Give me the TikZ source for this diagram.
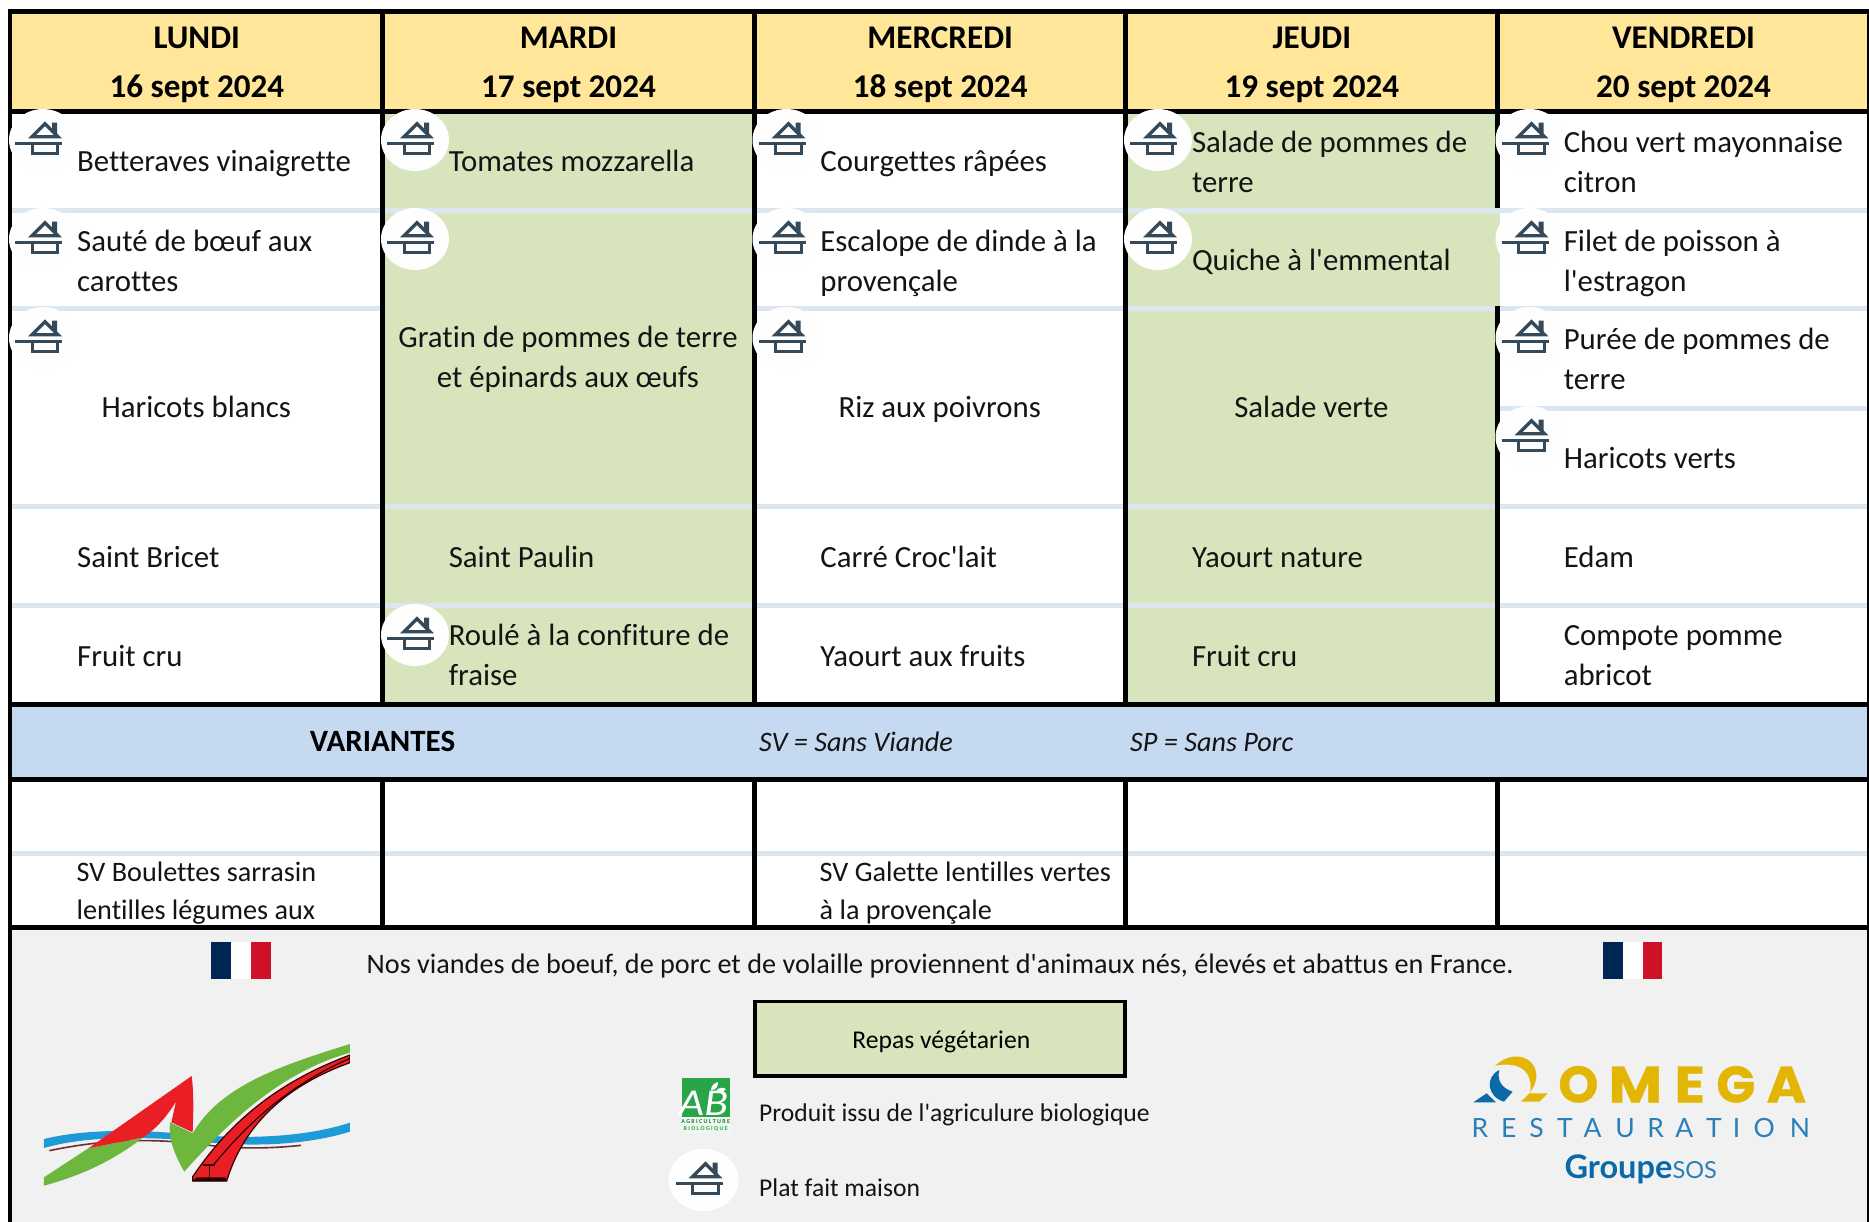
\documentclass[tikz,border=0pt]{standalone}
\usepackage{fontspec}
\setmainfont{Carlito}[Ligatures={TeXOff,CommonOff}]
\newfontfamily\popf{Poppins}[BoldFeatures={FakeBold=0.7}]
\newfontfamily\latof{Lato}
\definecolor{hdr}{HTML}{FFE699}
\definecolor{veg}{HTML}{D8E4BC}
\definecolor{sep}{HTML}{DCE6F1}
\definecolor{varb}{HTML}{C5D9F1}
\definecolor{foot}{HTML}{F1F1F1}
\definecolor{ico}{HTML}{34495A}
\definecolor{gold}{HTML}{E3B505}
\definecolor{oblue}{HTML}{0A69A8}
\definecolor{lblue}{HTML}{2B7FB8}
\definecolor{ngreen}{HTML}{6DB73F}
\definecolor{nred}{HTML}{EA1F26}
\definecolor{nblue}{HTML}{1E9BD7}
\definecolor{abg}{HTML}{28A548}
\definecolor{frb}{HTML}{002654}
\definecolor{frr}{HTML}{CE1126}
\definecolor{nbrown}{HTML}{6E2C36}
\tikzset{
  x=1pt,y=-1pt,
  cell/.style={anchor=base west,inner sep=0pt,font=\fontsize{30.8}{40}\selectfont,text=black!92},
  cellc/.style={cell,anchor=base},
  head/.style={anchor=base,inner sep=0pt,font=\fontsize{33.1}{40}\bfseries\selectfont,text=black},
  varc/.style={cell,font=\fontsize{28.2}{38}\selectfont},
  vari/.style={cell,font=\fontsize{28.2}{38}\itshape\selectfont},
  foottxt/.style={cell,font=\fontsize{28.2}{36}\selectfont},
  legtxt/.style={cell,font=\fontsize{25.6}{32}\selectfont},
  bar/.style={line width=4.7pt,draw=black},
  seprow/.style={line width=4.7pt,draw=sep},
  omegaL/.style={anchor=base,inner sep=0pt,text=gold,font=\fontsize{51}{51}\popf\bfseries\selectfont},
  restL/.style={anchor=base,inner sep=0pt,text=lblue,font=\fontsize{26.5}{26.5}\latof\selectfont},
  maison/.pic={
    \fill[white!99.5!black] (34,31) ellipse [x radius=34,y radius=31];
    \draw[ico,line width=3.3pt,line join=miter] (22.9,27.8) -- (36,14.7) -- (49.1,27.8) -- cycle;
    \fill[ico] (43,13.7) -- (48,13.7) -- (48,26) -- (43,21) -- cycle;
    \draw[ico,line width=3.3pt] (6,34.3) -- (53,34.3);
    \draw[ico,line width=3.3pt] (23.2,34.3) rectangle (48.8,44.5);
  }
}
\begin{document}
\begin{tikzpicture}
\useasboundingbox (0,0) rectangle (1869,1222);
\fill[white] (0,0) rectangle (1869,1222);
% backgrounds
\fill[hdr] (10,11) rectangle (1869,112);
\fill[veg] (382,112) rectangle (754,704);
\fill[veg] (1125,112) rectangle (1497,704);
\fill[veg] (1125,213) rectangle (1500,306);
\fill[varb] (10,704) rectangle (1869,780);
\fill[foot] (10,927) rectangle (1869,1222);
% row separators
\draw[seprow] (12,210.5) -- (1867,210.5);
\draw[seprow] (12,308.5) -- (382,308.5);
\draw[seprow] (754,308.5) -- (1867,308.5);
\draw[seprow] (1497,408.5) -- (1867,408.5);
\draw[seprow] (12,506.5) -- (1867,506.5);
\draw[seprow] (12,605.5) -- (1867,605.5);
\draw[seprow] (12,853.7) -- (1867,853.7);
% vertical rules
\draw[bar] (10,9) -- (10,1222);
\draw[bar] (1869.5,9) -- (1869.5,1222);
\draw[bar] (382.7,9) -- (382.7,707);
\draw[bar] (754.4,9) -- (754.4,707);
\draw[bar] (1125.6,9) -- (1125.6,707);
\draw[bar] (1497.5,9) -- (1497.5,208);
\draw[bar] (1497.5,306) -- (1497.5,707);
\draw[bar] (382.7,780) -- (382.7,927);
\draw[bar] (754.4,780) -- (754.4,927);
\draw[bar] (1125.6,780) -- (1125.6,927);
\draw[bar] (1497.5,780) -- (1497.5,927);
% horizontal rules
\draw[bar] (8,11.5) -- (1869,11.5);
\draw[bar] (8,111.5) -- (1869,111.5);
\draw[bar] (8,704.3) -- (1869,704.3);
\draw[bar] (8,779.6) -- (1869,779.6);
\draw[bar] (8,927.3) -- (1869,927.3);
% icons
\pic at (9,109) {maison}; \pic at (9,208) {maison}; \pic at (9,307) {maison};
\pic at (381,109) {maison}; \pic at (381,208) {maison}; \pic at (381,604) {maison};
\pic at (752.5,109) {maison}; \pic at (752.5,208) {maison}; \pic at (752.5,307) {maison};
\pic at (1124,109) {maison}; \pic at (1124,208) {maison};
\pic at (1495.5,109) {maison}; \pic at (1495.5,208) {maison}; \pic at (1495.5,307) {maison}; \pic at (1495.5,406) {maison};
% headers
\node[head] (h1) at (196.8,48.7) {LUNDI};
\node[head] (d1) at (196.8,97.7) {16 sept 2024};
\node[head] (h2) at (568.5,48.7) {MARDI};
\node[head] (d2) at (568.5,97.7) {17 sept 2024};
\node[head] (h3) at (940.2,48.7) {MERCREDI};
\node[head] (d3) at (940.2,97.7) {18 sept 2024};
\node[head] (h4) at (1311.9,48.7) {JEUDI};
\node[head] (d4) at (1311.9,97.7) {19 sept 2024};
\node[head] (h5) at (1683.5,48.7) {VENDREDI};
\node[head] (d5) at (1683.5,97.7) {20 sept 2024};
% column 1
\node[cell] (a1) at (77,171.9) {Betteraves vinaigrette};
\node[cell] (a2) at (77,251.2) {Sauté de bœuf aux};
\node[cell] (a2b) at (77,291.2) {carottes};
\node[cellc] (a3) at (196.3,417.9) {Haricots blancs};
\node[cell] (a4) at (77,567.9) {Saint Bricet};
\node[cell] (a5) at (77,666.9) {Fruit cru};
% column 2
\node[cell] (b1) at (448.6,171.9) {Tomates mozzarella};
\node[cellc] (b2) at (568,347.9) {Gratin de pommes de terre};
\node[cellc] (b2b) at (568,387.9) {et épinards aux œufs};
\node[cell] (b4) at (448.6,567.9) {Saint Paulin};
\node[cell] (b5) at (448.6,645.5) {Roulé à la confiture de};
\node[cell] (b5b) at (448.6,685.5) {fraise};
% column 3
\node[cell] (c1) at (820.2,171.9) {Courgettes râpées};
\node[cell] (c2) at (820.2,251.2) {Escalope de dinde à la};
\node[cell] (c2b) at (820.2,291.2) {provençale};
\node[cellc] (c3) at (939.7,417.9) {Riz aux poivrons};
\node[cell] (c4) at (820.2,567.9) {Carré Croc'lait};
\node[cell] (c5) at (820.2,666.9) {Yaourt aux fruits};
% column 4
\node[cell] (e1) at (1191.8,152.2) {Salade de pommes de};
\node[cell] (e1b) at (1191.8,192.2) {terre};
\node[cell] (e2) at (1191.8,270.5) {Quiche à l'emmental};
\node[cellc] (e3) at (1311.4,417.9) {Salade verte};
\node[cell] (e4) at (1191.8,567.9) {Yaourt nature};
\node[cell] (e5) at (1191.8,666.9) {Fruit cru};
% column 5
\node[cell] (f1) at (1563.6,152.2) {Chou vert mayonnaise};
\node[cell] (f1b) at (1563.6,192.2) {citron};
\node[cell] (f2) at (1563.6,251.2) {Filet de poisson à};
\node[cell] (f2b) at (1563.6,291.2) {l'estragon};
\node[cell] (f3) at (1563.6,349.5) {Purée de pommes de};
\node[cell] (f3b) at (1563.6,389.5) {terre};
\node[cell] (f3c) at (1563.6,468.9) {Haricots verts};
\node[cell] (f4) at (1563.6,567.9) {Edam};
\node[cell] (f5) at (1563.6,645.5) {Compote pomme};
\node[cell] (f5b) at (1563.6,685.5) {abricot};
% variants
\node[anchor=base,inner sep=0pt,font=\fontsize{31}{36}\bfseries\selectfont] (vt) at (382.5,751) {VARIANTES};
\node[vari] (v1) at (759,751) {SV = Sans Viande};
\node[vari] (v2) at (1130,751) {SP = Sans Porc};
\node[varc] (v3) at (76.5,881.7) {SV Boulettes sarrasin};
\node[varc] (v3b) at (76.5,919.3) {lentilles légumes aux};
\node[varc] (v4) at (819.5,881.7) {SV Galette lentilles vertes};
\node[varc] (v4b) at (819.5,919.3) {à la provençale};
% footer
\node[foottxt] (ft) at (366.5,973) {Nos viandes de boeuf, de porc et de volaille proviennent d'animaux nés, élevés et abattus en France.};
\fill[white] (231,942) rectangle (251,979);
\fill[white] (1623,942) rectangle (1643,979);
\fill[frb] (211,942) rectangle (231,979);
\fill[frr] (251,942) rectangle (271,979);
\fill[frb] (1603,942) rectangle (1623,979);
\fill[frr] (1643,942) rectangle (1662,979);
% legend
\node[draw=black,line width=3.6pt,fill=veg,minimum width=370pt,minimum height=74.5pt,inner sep=0pt] (rv) at (940,1038.8) {};
\node[anchor=base,inner sep=0pt,font=\fontsize{25.6}{32}\selectfont] (rvt) at (941.3,1048.3) {Repas végétarien};
\node[legtxt] (l1) at (759,1121) {Produit issu de l'agriculure biologique};
\node[legtxt] (l2) at (759,1196) {Plat fait maison};
\begin{scope}[shift={(669.5,1149)}]
\fill[white] (34,31) ellipse [x radius=35,y radius=31];
\end{scope}
\pic at (669.5,1149) {maison};
% AB logo
\fill[white!92!abg] (681,1078) rectangle (730.7,1132.7);
\fill[abg] (682,1078) rectangle (730,1117);
\node[anchor=center,inner sep=0pt,text=white,xscale=1.15,transform shape,font=\fontsize{38}{38}\itshape\selectfont] (ab) at (703.5,1103.8) {AB};
\fill[white] (711,1090) .. controls (711,1085) and (715,1083) .. (718,1082) .. controls (718,1087) and (716,1090) .. (711,1090);
\fill[white] (716,1091) .. controls (719,1087) and (723,1087) .. (726,1089) .. controls (723,1093) and (719,1093) .. (716,1091);
\node[anchor=center,inner sep=0pt,text=abg!70!black,font=\fontsize{6}{6}\bfseries\selectfont] (ab1) at (705.7,1121.5) {A G R I C U L T U R E};
\node[anchor=center,inner sep=0pt,text=abg,font=\fontsize{6}{6}\bfseries\selectfont] (ab2) at (705.7,1128.5) {B I O L O G I Q U E};
% left logo (coordinates of a 3x view)
\begin{scope}[shift={(0,920)},x=0.33333pt,y=-0.33333pt]
\clip (132,300) rectangle (1050,820);
\fill[nblue] (132,657) .. controls (250,628) and (400,628) .. (560,642) .. controls (750,660) and (920,650) .. (1050,608) -- (1050,635) .. controls (920,675) and (750,685) .. (560,660) .. controls (400,650) and (250,650) .. (132,684) -- cycle;
\draw[draw=nbrown,line width=1.6pt] (148,692) .. controls (300,660) and (450,652) .. (620,675) .. controls (720,688) and (820,685) .. (903,676);
\fill[ngreen] (132,772) -- (265,685) -- (430,652) .. controls (330,730) and (230,770) .. (132,797) -- cycle;
\fill[nred] (265,685) -- (575,468) .. controls (582,520) and (580,580) .. (578,637) -- (514,607) -- (528,545) .. controls (500,590) and (470,625) .. (430,652) -- cycle;
\fill[ngreen] (510,607) -- (578,640) .. controls (660,500) and (830,440) .. (1050,372) -- (1050,398) .. controls (850,455) and (700,590) .. (553,755) .. controls (520,700) and (505,650) .. (510,607) -- cycle;
\filldraw[fill=nred,draw=black!80!red,line width=1.2pt] (578,783) -- (578,770) .. controls (700,590) and (850,480) .. (1050,405) -- (1050,428) .. controls (850,500) and (730,620) .. (680,783) -- cycle;
\draw[black!80!red,line width=1.2pt] (640,735) .. controls (760,590) and (880,490) .. (1050,415);
\draw[black!80!red,line width=1.2pt] (610,735) -- (646,735) (628,735) -- (628,772);
\fill[black!85!red] (590,772) -- (676,772) -- (680,783) -- (578,783) -- cycle;
\end{scope}
% Omega logo (coordinates of a 3x view)
\begin{scope}[shift={(1430,920)},x=0.33333pt,y=-0.33333pt]
\fill[gold] (195,437) .. controls (225,410) and (265,400) .. (295,420) .. controls (330,445) and (330,500) .. (272,545) -- (328,545) -- (353,520) -- (300,520) .. controls (310,470) and (285,420) .. (195,437) -- cycle;
\fill[oblue] (208,450) .. controls (165,470) and (170,530) .. (222,545) -- (248,515) .. controls (215,505) and (200,480) .. (208,450) -- cycle;
\fill[oblue] (130,547) -- (170,520) -- (198,547) -- cycle;
\node[omegaL] (o1) at (445,547) {O};
\node[omegaL,xscale=1.15,transform shape] (o2) at (616,547) {M};
\node[omegaL,xscale=1.1,transform shape] (o3) at (779,547) {E};
\node[omegaL] (o4) at (917,547) {G};
\node[omegaL,xscale=1.05,transform shape] (o5) at (1069,547) {A};
\node[restL] (r1) at (150,652) {R};
\node[restL] (r2) at (236,652) {E};
\node[restL] (r3) at (320,652) {S};
\node[restL] (r4) at (405,652) {T};
\node[restL] (r5) at (488,652) {A};
\node[restL] (r6) at (585,652) {U};
\node[restL] (r7) at (677,652) {R};
\node[restL] (r8) at (763,652) {A};
\node[restL] (r9) at (852,652) {T};
\node[restL] (r10) at (920,652) {I};
\node[restL] (r11) at (1003,652) {O};
\node[restL] (r12) at (1110,652) {N};
\node[anchor=base west,inner sep=0pt,text=oblue,font=\fontsize{32.5}{30}\latof\bfseries\selectfont] (gr) at (403,775) {Groupe};
\node[anchor=base west,inner sep=0pt,text=lblue,font=\fontsize{23.5}{21}\latof\selectfont] (so) at (727,775) {SOS};
\end{scope}
\end{tikzpicture}
\end{document}
